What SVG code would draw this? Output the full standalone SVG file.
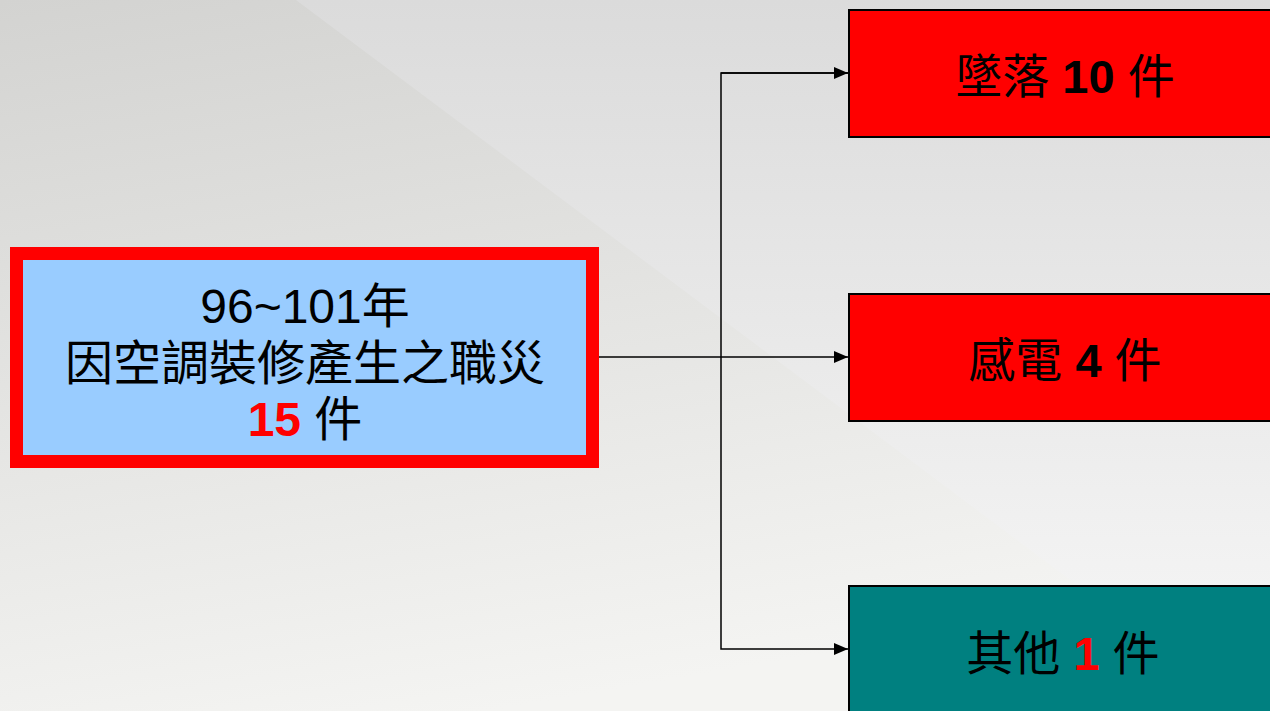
<svg xmlns="http://www.w3.org/2000/svg" width="1270" height="711" viewBox="0 0 1270 711">
<defs>
<linearGradient id="bgR" x1="0" y1="0" x2="0" y2="1">
<stop offset="0" stop-color="#dbdbdb"/>
<stop offset="1" stop-color="#f8f8f8"/>
</linearGradient>
<linearGradient id="bgL" x1="0" y1="0" x2="0.3" y2="1">
<stop offset="0" stop-color="#d3d3d1"/>
<stop offset="1" stop-color="#f4f4f2"/>
</linearGradient>
<marker id="arr" viewBox="0 0 14 12" refX="14" refY="6" markerWidth="14" markerHeight="12" markerUnits="userSpaceOnUse" orient="auto">
<path d="M0,0 L14,6 L0,12 Z" fill="#000"/>
</marker>
</defs>
<style>
.cjk{font-family:"Liberation Sans","Noto Sans CJK TC",sans-serif;font-size:47px;fill:#000;text-anchor:middle}
.big{font-size:48px}
.num{font-family:"Liberation Sans",sans-serif;font-weight:bold}
.box{stroke:#000;stroke-width:2}
.conn{fill:none;stroke:#000;stroke-width:1.5}
</style>
<rect x="0" y="0" width="1270" height="711" fill="url(#bgR)"/>
<polygon points="0,0 296,0 1077,585 1270,730 0,730" fill="url(#bgL)"/>
<g id="connectors">
<path class="conn" d="M599,357 H848" stroke-width="2" marker-end="url(#arr)"/>
<path class="conn" d="M848,73 H721 V649 H848" marker-end="url(#arr)"/>
<path class="conn" d="M721,73 H848" marker-end="url(#arr)"/>
</g>
<g id="source">
<rect x="16.5" y="253.5" width="576" height="208" fill="#99ccff" stroke="#ff0000" stroke-width="13"/>
<text class="cjk big" x="305" y="323">96~101年</text>
<text class="cjk big" x="305" y="380">因空調裝修產生之職災</text>
<text class="cjk big" x="305" y="436"><tspan class="num" fill="#ff0000">15</tspan> 件</text>
</g>
<g id="fall">
<rect class="box" x="849" y="10" width="440" height="127" fill="#ff0000"/>
<text class="cjk" x="1065" y="93">墜落 <tspan class="num">10</tspan> 件</text>
</g>
<g id="shock">
<rect class="box" x="849" y="294" width="440" height="127" fill="#ff0000"/>
<text class="cjk" x="1065" y="377">感電 <tspan class="num">4</tspan> 件</text>
</g>
<g id="other">
<rect class="box" x="849" y="586" width="440" height="140" fill="#008080"/>
<text class="cjk" x="1063" y="670">其他 <tspan class="num" fill="#ff0000">1</tspan> 件</text>
</g>
</svg>
